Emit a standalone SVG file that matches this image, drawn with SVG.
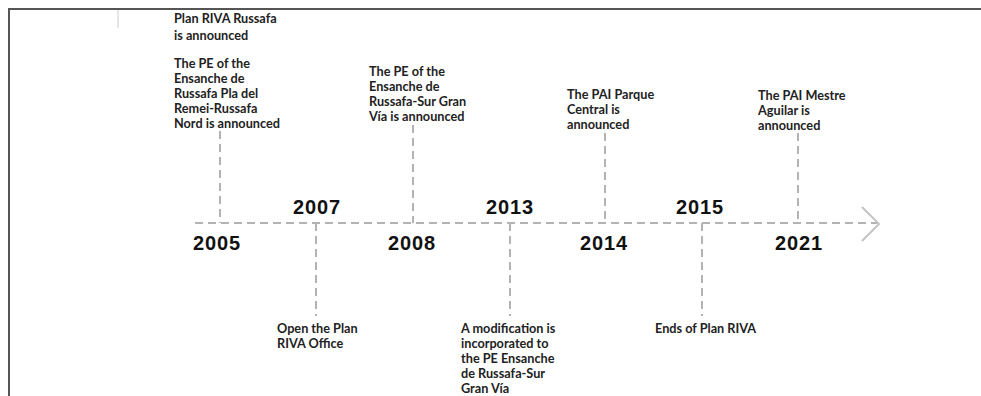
<svg xmlns="http://www.w3.org/2000/svg" width="981" height="396" viewBox="0 0 981 396">
<style>
.frame{stroke:#555;stroke-width:2;fill:none}
.dash{stroke:#b3b3b3;stroke-width:2;stroke-dasharray:8 5;fill:none}
.arrow{stroke:#c4c4c4;stroke-width:2;fill:none}
.lbl{font-family:Lato,"Noto Sans",sans-serif;font-size:12.7px;font-weight:bold;fill:#222}
.yr{font-family:"Liberation Sans",Arial,sans-serif;font-size:20px;font-weight:bold;fill:#111;letter-spacing:0.9px}
</style>
<rect width="981" height="396" fill="#fff"/>
<path class="frame" d="M9,396 V9 H981"/>
<line x1="118" y1="10" x2="118" y2="28" stroke="#ccc" stroke-width="1"/>
<g id="connectors">
<line class="dash" x1="195" y1="223" x2="878" y2="223"/>
<polyline class="arrow" points="862,207 879,224 862,241"/>
<line class="dash" x1="220" y1="131" x2="220" y2="223"/>
<line class="dash" x1="316" y1="223" x2="316" y2="316"/>
<line class="dash" x1="413" y1="125" x2="413" y2="223"/>
<line class="dash" x1="510" y1="223" x2="510" y2="316"/>
<line class="dash" x1="605" y1="133" x2="605" y2="223"/>
<line class="dash" x1="702" y1="223" x2="702" y2="316"/>
<line class="dash" x1="798" y1="133" x2="798" y2="223"/>
</g>
<g id="n2005">
<text class="lbl" x="174"><tspan x="174" y="23">Plan RIVA Russafa</tspan><tspan x="174" y="40">is announced</tspan><tspan x="174" y="68">The PE of the</tspan><tspan x="174" y="83">Ensanche de</tspan><tspan x="174" y="98">Russafa Pla del</tspan><tspan x="174" y="113">Remei-Russafa</tspan><tspan x="174" y="128">Nord is announced</tspan></text>
<text class="yr" x="193" y="250">2005</text>
</g>
<g id="n2007">
<text class="yr" x="293" y="214">2007</text>
<text class="lbl"><tspan x="277" y="333">Open the Plan</tspan><tspan x="277" y="348">RIVA Office</tspan></text>
</g>
<g id="n2008">
<text class="lbl"><tspan x="369" y="76">The PE of the</tspan><tspan x="369" y="91">Ensanche de</tspan><tspan x="369" y="106">Russafa-Sur Gran</tspan><tspan x="369" y="121">Vía is announced</tspan></text>
<text class="yr" x="388" y="250">2008</text>
</g>
<g id="n2013">
<text class="yr" x="486" y="214">2013</text>
<text class="lbl"><tspan x="461" y="333">A modification is</tspan><tspan x="461" y="348">incorporated to</tspan><tspan x="461" y="363">the PE Ensanche</tspan><tspan x="461" y="378">de Russafa-Sur</tspan><tspan x="461" y="393">Gran Vía</tspan></text>
</g>
<g id="n2014">
<text class="lbl"><tspan x="567" y="99">The PAI Parque</tspan><tspan x="567" y="114">Central is</tspan><tspan x="567" y="129">announced</tspan></text>
<text class="yr" x="580" y="250">2014</text>
</g>
<g id="n2015">
<text class="yr" x="676" y="214">2015</text>
<text class="lbl"><tspan x="655" y="333">Ends of Plan RIVA</tspan></text>
</g>
<g id="n2021">
<text class="lbl"><tspan x="758" y="100">The PAI Mestre</tspan><tspan x="758" y="115">Aguilar is</tspan><tspan x="758" y="130">announced</tspan></text>
<text class="yr" x="775" y="250">2021</text>
</g>
</svg>
